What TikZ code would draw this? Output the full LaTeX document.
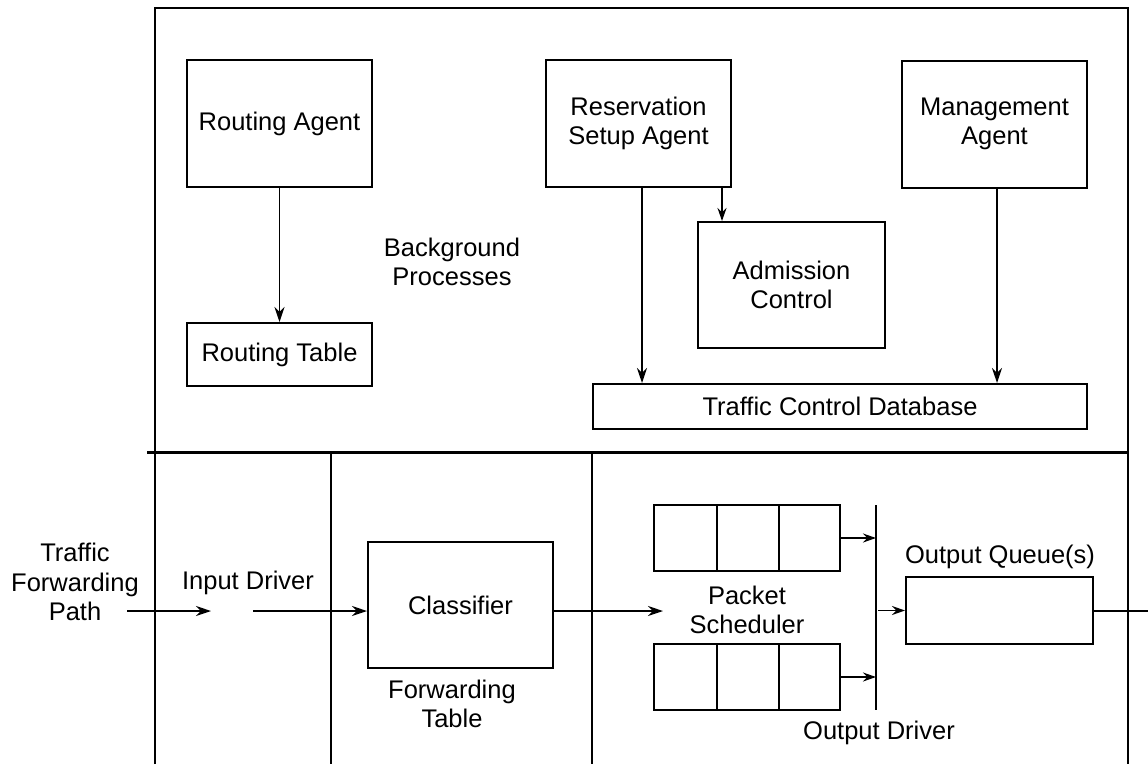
\documentclass[tikz,border=0pt]{standalone}
\usepackage{fontspec}
\setmainfont{Liberation Sans}
\usetikzlibrary{arrows.meta,calc}
\begin{document}
\begin{tikzpicture}[x=1pt,y=-1pt,
  every node/.style={font=\fontsize{25.5}{29.5}\selectfont},
  box/.style={draw,line width=2pt,inner sep=0pt,align=center},
  lbl/.style={inner sep=0pt,align=center},
  frame/.style={line width=2pt},
  arr/.style={line width=1.8pt,-{Stealth[length=15pt,width=10pt]}},
  sarr/.style={line width=1.8pt,-{Stealth[length=13pt,width=9pt]}},
]
\useasboundingbox (0,0) rectangle (1148,764);
% frame
\draw[frame] (155,764) -- (155,8) -- (1128,8) -- (1128,764);
\draw[line width=3pt] (147,452) -- (1128,452);
\draw[frame] (331,452) -- (331,764);
\draw[frame] (592,452) -- (592,764);

% background processes
\node[box,minimum width=185pt,minimum height=127pt] (RA) at (279.5,123.5) {Routing Agent};
\node[box,minimum width=185pt,minimum height=63pt] (RT) at (279.5,354.5) {Routing Table};
\node[box,minimum width=185pt,minimum height=127pt] (RSA) at (638.5,123.5) {Reservation\\Setup Agent};
\node[box,minimum width=185pt,minimum height=127pt] (MA) at (994.5,124) {Management\\Agent};
\node[box,minimum width=187pt,minimum height=126pt] (AC) at (791.5,285) {Admission\\Control};
\node[box,minimum width=494pt,minimum height=45pt] (TCD) at (840,406.5) {Traffic Control Database};
\node[lbl] (BP) at (452,262) {Background\\Processes};

\draw[arr] (RA.south) -- (RT.north);
\coordinate (r0) at ([xshift=3.5pt]RSA.south);
\draw[arr] (r0) -- (r0 |- TCD.north);
\coordinate (r1) at ([xshift=-10pt]RSA.south east);
\draw[sarr] (r1) -- (r1 |- AC.north);
\coordinate (m0) at ([xshift=2.5pt]MA.south);
\draw[arr] (m0) -- (m0 |- TCD.north);

% forwarding path
\node[lbl] (TFP) at (75,582) {Traffic\\Forwarding\\Path};
\node[lbl] (ID) at (248,583) {Input Driver};
\node[box,minimum width=185pt,minimum height=126pt] (CL) at (460.5,605) {Classifier};
\node[lbl] (FT) at (452,704) {Forwarding\\Table};
\node[box,minimum width=186pt,minimum height=66pt] (Q1) at (747,538) {};
\node[box,minimum width=186pt,minimum height=66pt] (Q2) at (747,677) {};
\foreach \q in {Q1,Q2}{
  \foreach \f in {0.339,0.672}{
    \draw[line width=2pt] ($(\q.north west)!\f!(\q.north east)$) -- ($(\q.south west)!\f!(\q.south east)$);
  }
}
\node[lbl] (PS) at (747,610) {Packet\\Scheduler};
\node[box,minimum width=187pt,minimum height=67pt] (OQ) at (999.5,610.5) {};
\node[lbl] (OQL) at (1000,557) {Output Queue(s)};
\node[lbl] (OD) at (879,733) {Output Driver};

\coordinate (t0) at (127,611);
\coordinate (t1) at (211,611);
\coordinate (i0) at (253,611);
\coordinate (ps) at (663,611);
\coordinate (odT) at (876,505);
\coordinate (odB) at (876,710);
\coordinate (re) at (1148,0);

\draw[arr] (t0) -- (t1);
\draw[arr] (i0) -- (i0 -| CL.west);
\draw[arr] (ps -| CL.east) -- (ps);
\draw[frame] (odT) -- (odB);
\draw[sarr] (Q1.east) -- (Q1.east -| odT);
\draw[sarr] (Q2.east) -- (Q2.east -| odT);
\draw[sarr] ([xshift=2pt]OQ.west -| odT) -- (OQ.west);
\draw[frame] (OQ.east) -- (OQ.east -| re);
\end{tikzpicture}
\end{document}
